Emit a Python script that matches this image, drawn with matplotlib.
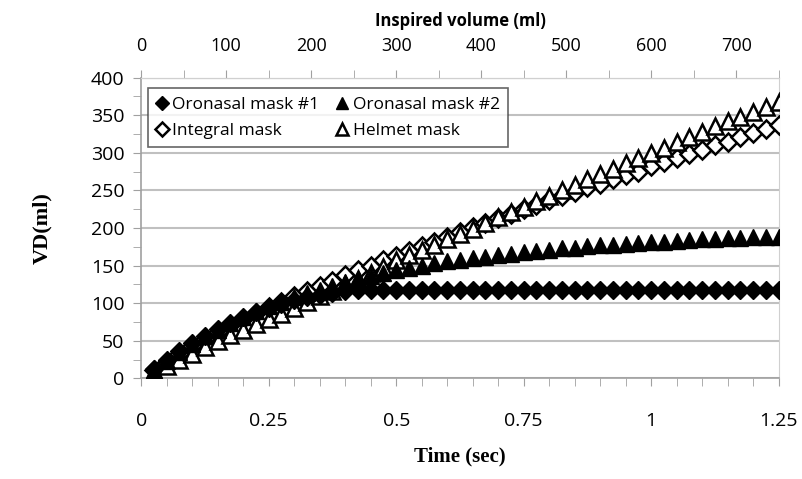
import matplotlib.pyplot as plt
from matplotlib.ticker import MultipleLocator, FixedLocator

# time points (sec), one marker every 0.025 s
time = [round(0.025 * k, 3) for k in range(1, 51)]

oronasal1 = [12, 24, 36, 47, 57, 66, 74, 81, 88, 94,
             99, 104, 108, 111, 114, 116, 117, 117.5, 118, 118,
             118, 118, 118, 118, 118, 118, 118, 118, 118, 118,
             118, 118, 118, 118, 118, 118, 118, 118, 118, 118,
             118, 118, 118, 118, 118, 118, 118, 118, 118, 118]

oronasal2 = [11, 23, 35, 46, 56, 65, 74, 82, 89, 96,
             102, 108, 113, 118, 123, 128, 132, 136, 140, 144,
             147, 150, 153, 156, 158, 160, 162, 164, 166, 168,
             170, 171, 173, 174, 176, 177, 178, 179, 180, 181,
             182, 183, 184, 185, 186, 186.5, 187, 187.5, 188, 188.5]

integral = [11, 22, 33, 43, 53, 62, 71, 79, 87, 95,
            102, 109, 116, 123, 130, 137, 144, 150, 157, 163,
            169, 176, 182, 188, 195, 201, 207, 213, 219, 225,
            231, 237, 243, 248, 254, 259, 265, 270, 275, 282,
            288, 293, 299, 304, 310, 315, 321, 326, 332, 337]

helmet = [9, 17, 25, 33, 42, 50, 58, 65, 72, 79,
          86, 94, 101, 109, 116, 125, 132, 140, 148, 157,
          164, 171, 178, 185, 192, 199, 206, 214, 221, 228,
          236, 243, 250, 257, 265, 272, 279, 286, 293, 300,
          307, 314, 321, 328, 335, 342, 348, 354, 361, 367]

time_ticks = [0, 0.25, 0.5, 0.75, 1, 1.25]
time_labels = ['0', '0.25', '0.5', '0.75', '1', '1.25']
volume_ticks = [0, 100, 200, 300, 400, 500, 600, 700]
flow = 600  # ml/s, inspired volume = flow * time

grid_c = '#c0c0c0'
tick_font = 'Open Sans'

fig = plt.figure(figsize=(8.02, 4.79), dpi=100)
ax = fig.add_axes([0.176, 0.21, 0.795, 0.628])

h_int, = ax.plot(time, integral, 'D', ms=9, mfc='white', mec='black', mew=1.8,
                 linestyle='none', label='Integral mask', zorder=3)
h_hel, = ax.plot(time, helmet, '^', ms=11, mfc='white', mec='black', mew=1.8,
                 linestyle='none', label='Helmet mask', zorder=3)
h_o2, = ax.plot(time, oronasal2, '^', ms=11, color='black',
                linestyle='none', label='Oronasal mask #2', zorder=4)
h_o1, = ax.plot(time, oronasal1, 'D', ms=9, color='black',
                linestyle='none', label='Oronasal mask #1', zorder=5)

ax.set_xlim(0, 1.25)
ax.set_ylim(0, 400)
ax.set_xticks(time_ticks)
ax.set_xticklabels(time_labels)
ax.xaxis.set_minor_locator(MultipleLocator(0.05))
ax.yaxis.set_major_locator(MultipleLocator(50))
ax.yaxis.set_minor_locator(MultipleLocator(25))
ax.grid(axis='y', color=grid_c, linewidth=1.5)
ax.set_axisbelow(True)

for side in ['top', 'right']:
    ax.spines[side].set_color('#d0d0d0')
for side in ['left', 'bottom']:
    ax.spines[side].set_color('#a0a0a0')
    ax.spines[side].set_linewidth(1.2)

ax.tick_params(axis='both', which='both', color='#a0a0a0', direction='out', length=6)
ax.tick_params(axis='both', which='major', labelsize=14, pad=6)
ax.tick_params(axis='x', which='major', pad=18)
for lab in ax.get_xticklabels() + ax.get_yticklabels():
    lab.set_fontfamily(tick_font)

ax.set_xlabel('Time (sec)', fontsize=15, fontweight='bold',
              fontfamily='Liberation Serif', labelpad=12)
ax.set_ylabel('VD(ml)', fontsize=16, fontweight='bold',
              fontfamily='Liberation Serif', labelpad=28)

top = ax.secondary_xaxis('top', functions=(lambda t: t * flow, lambda v: v / flow))
top.xaxis.set_major_locator(FixedLocator(volume_ticks))
top.xaxis.set_minor_locator(MultipleLocator(50))
top.tick_params(which='both', color='#a0a0a0', length=6, labelsize=13, pad=10)
top.spines['top'].set_color('#d0d0d0')
for lab in top.get_xticklabels():
    lab.set_fontfamily(tick_font)
top.set_xlabel('Inspired volume (ml)', fontsize=12, fontweight='bold',
               fontfamily=tick_font, labelpad=8)

leg = ax.legend(handles=[h_o1, h_int, h_o2, h_hel], ncol=2, loc='upper left',
                bbox_to_anchor=(0.011, 0.965), borderaxespad=0, frameon=True,
                fancybox=False, prop={'family': tick_font, 'size': 12.5},
                handlelength=0.6, handletextpad=0.3, columnspacing=1.0,
                borderpad=0.5, labelspacing=0.55, markerscale=0.75)
leg.get_frame().set_edgecolor('#404040')
leg.get_frame().set_linewidth(1.2)

fig.savefig('out.png', dpi=100)
